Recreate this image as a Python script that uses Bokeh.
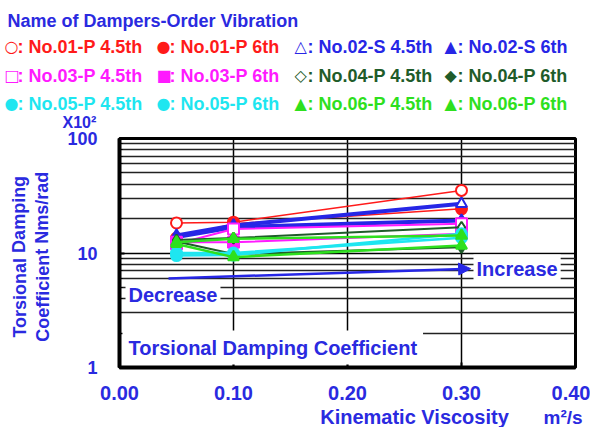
from bokeh.plotting import figure
from bokeh.layouts import column, row
from bokeh.models import Label, FixedTicker, Arrow, NormalHead, ColumnDataSource
from bokeh.embed import file_html
from bokeh.resources import INLINE

# ---- data ----
viscosity = [0.05, 0.10, 0.30]
no01_45 = [18.3, 18.6, 35.2]
no01_6 = [13.5, 18.0, 24.3]
no02_45 = [14.2, 17.4, 26.9]
no02_6 = [13.8, 16.8, 19.2]
no03_45 = [12.0, 16.2, 18.0]
no03_6 = [12.4, 12.4, 14.7]
no04_45 = [13.0, 13.5, 16.8]
no04_6 = [12.6, 9.8, 11.2]
no05_45 = [9.5, 9.6, 14.7]
no05_6 = [10.0, 10.0, 13.6]
no06_45 = [12.4, 13.3, 14.2]
no06_6 = [12.0, 9.2, 11.6]

x_ticks = [0.0, 0.1, 0.2, 0.3, 0.4]
x_tick_labels = {0.0: "0.00", 0.1: "0.10", 0.2: "0.20", 0.3: "0.30", 0.4: "0.40"}
y_ticks = [1, 10, 100]
y_minor = [2, 3, 4, 5, 6, 7, 8, 9, 20, 30, 40, 50, 60, 70, 80, 90]

arrow_x = [0.043, 0.308]
arrow_y = [6.0, 7.3]

legend_rows = [
    [("○", ": No.01-P 4.5th", "#ff1a1a"), ("●", ": No.01-P 6th", "#ff1a1a"),
     ("△", ": No.02-S 4.5th", "#2626e6"), ("▲", ": No.02-S 6th", "#2626e6")],
    [("□", ": No.03-P 4.5th", "#ff1aff"), ("■", ": No.03-P 6th", "#ff1aff"),
     ("◇", ": No.04-P 4.5th", "#1f5c2a"), ("◆", ": No.04-P 6th", "#1f5c2a")],
    [("●", ": No.05-P 4.5th", "#1ee6f0"), ("●", ": No.05-P 6th", "#1ee6f0"),
     ("▲", ": No.06-P 4.5th", "#2ee01e"), ("▲", ": No.06-P 6th", "#2ee01e")],
]

RED = "#ff1a1a"
BLUE = "#2626e6"
MAG = "#ff1aff"
DKG = "#1f5c2a"
CYAN = "#1ee6f0"
GRN = "#2ee01e"
TXT = "#2a2ae0"
FONT = "Liberation Sans"

# page layout (px)
PW, PH = 590, 427
HEAD_H = 130
FOOT_H = 20
LEFT_W = 60
MAIN_H = PH - HEAD_H - FOOT_H
FL, FR, FT, FB = 119, 575, 138, 367   # frame edges in page px


def blank(w, h, x0, y0):
    f = figure(width=w, height=h, output_backend="svg", toolbar_location=None,
               x_range=(x0, x0 + w), y_range=(y0 + h, y0),
               x_axis_location=None, y_axis_location=None,
               min_border=0, min_border_left=0, min_border_right=0,
               min_border_top=0, min_border_bottom=0)
    f.grid.visible = False
    f.outline_line_color = None
    f.background_fill_color = "white"
    f.border_fill_color = "white"
    return f


def tlab(f, text, x, y, color=TXT, size=17, align="left", angle=0, font=FONT, style="bold"):
    f.add_layout(Label(x=x, y=y, text=text, text_color=color, text_font=font,
                       text_font_style=style, text_font_size=f"{size}px",
                       text_align=align, text_baseline="middle", angle=angle))


# ---- header ----
head = blank(PW, HEAD_H, 0, 0)
tlab(head, "Name of Dampers-Order Vibration", 7, 20, size=18)
row_y = [46, 75, 103]
col_x = [4, 156, 294, 444]
for ry, items in zip(row_y, legend_rows):
    for cx, (mk, t, c) in zip(col_x, items):
        tlab(head, mk, cx, ry, color=c, size=16, font="DejaVu Sans", style="normal")
        tlab(head, t, cx + 13, ry, color=c, size=18)
tlab(head, "X10²", 62, 122, size=16)

# ---- left title strip ----
left = blank(LEFT_W, MAIN_H, 0, HEAD_H)
tlab(left, "Torsional Damping", 19, 273, size=18, align="center", angle=1.5708)
tlab(left, "Coefficient Nms/rad", 42, 273, size=18, align="center", angle=1.5708)

# ---- main plot ----
MW = PW - LEFT_W
p = figure(width=MW, height=MAIN_H, output_backend="svg", toolbar_location=None,
           x_range=(0, 0.4), y_range=(1, 100), y_axis_type="log",
           min_border_left=FL - LEFT_W, min_border_right=PW - FR,
           min_border_top=FT - HEAD_H, min_border_bottom=HEAD_H + MAIN_H - FB)
p.background_fill_color = "white"
p.border_fill_color = "white"
p.outline_line_color = "black"
p.outline_line_width = 3

p.xaxis.ticker = FixedTicker(ticks=x_ticks)
p.xaxis.major_label_overrides = x_tick_labels
p.yaxis.ticker = FixedTicker(ticks=y_ticks, minor_ticks=y_minor)
p.yaxis.major_label_overrides = {1: "1", 10: "10", 100: "100"}
for ax in (p.xaxis[0], p.yaxis[0]):
    ax.axis_line_color = "black"
    ax.axis_line_width = 4
    ax.major_tick_in = 5
    ax.major_tick_out = 0
    ax.minor_tick_in = 3
    ax.minor_tick_out = 0
    ax.major_tick_line_width = 2
    ax.major_label_text_font = FONT
    ax.major_label_text_font_style = "bold"
    ax.major_label_text_color = TXT
p.xaxis.major_label_text_font_size = "20px"
p.xaxis.major_label_standoff = 18
p.yaxis.major_label_text_font_size = "18px"
p.yaxis.major_label_standoff = 22

p.xgrid.grid_line_color = "black"
p.xgrid.grid_line_width = 1.5
p.ygrid.grid_line_color = "black"
p.ygrid.grid_line_width = 1.5
p.ygrid.minor_grid_line_color = "#222222"
p.ygrid.minor_grid_line_width = 1.3

series = [
    (no01_45, RED, 1.5, "circle", False),
    (no01_6, RED, 1.5, "circle", True),
    (no02_45, BLUE, 4, "triangle", False),
    (no02_6, BLUE, 4, "triangle", True),
    (no03_45, MAG, 2, "square", False),
    (no03_6, MAG, 2, "square", True),
    (no04_45, DKG, 2, "diamond", False),
    (no04_6, DKG, 2, "diamond", True),
    (no05_45, CYAN, 2.5, "circle", True),
    (no05_6, CYAN, 2.5, "circle", True),
    (no06_45, GRN, 2.5, "triangle", True),
    (no06_6, GRN, 2.5, "triangle", True),
]
for ys, col, lw, mk, filled in series:
    src = ColumnDataSource(dict(x=viscosity, y=ys))
    p.line("x", "y", source=src, line_color=col, line_width=lw)
    p.scatter("x", "y", source=src, marker=mk, size=11, line_color=col, line_width=2,
              fill_color=col if filled else "white")

p.add_layout(Arrow(end=NormalHead(size=12, fill_color=BLUE, line_color=BLUE),
                   x_start=arrow_x[0], y_start=arrow_y[0], x_end=arrow_x[1], y_end=arrow_y[1],
                   line_color=BLUE, line_width=2.5))


def plab(text, px, py, size=20, pad=3):
    p.add_layout(Label(x=px - FL, y=FB - py, x_units="screen", y_units="screen", text=text,
                       text_color=TXT, text_font=FONT, text_font_style="bold",
                       text_font_size=f"{size}px", text_align="left", text_baseline="middle",
                       background_fill_color="white", padding=pad))


plab("Increase", 473, 268)
plab("Decrease", 125, 294)
plab("Torsional Damping Coefficient", 122, 347, pad=6)

# ---- footer ----
foot = blank(PW, FOOT_H, 0, HEAD_H + MAIN_H)
tlab(foot, "Kinematic Viscosity", 414, 416, size=20, align="center")
tlab(foot, "m²/s", 543, 417, size=19)

layout = column(head, row(left, p), foot)
open("out.html", "w").write(file_html(layout, INLINE))
